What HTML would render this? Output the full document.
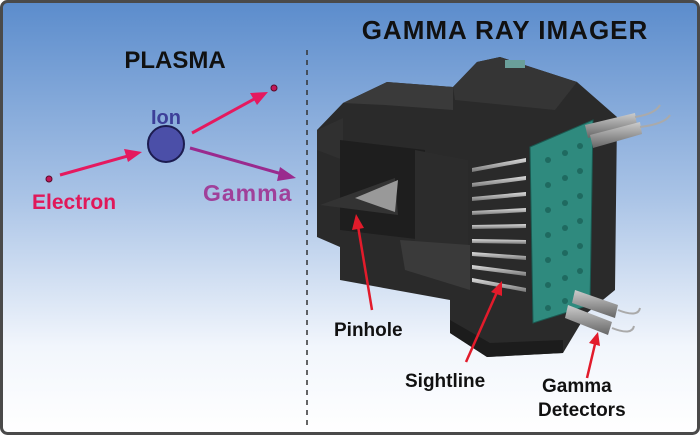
<!DOCTYPE html>
<html><head><style>
body{margin:0;width:700px;height:435px;overflow:hidden;font-family:"Liberation Sans",sans-serif}
</style></head><body>
<svg width="700" height="435" viewBox="0 0 700 435" xmlns="http://www.w3.org/2000/svg">
<defs>
<linearGradient id="bg" x1="0" y1="0" x2="0" y2="1">
<stop offset="0" stop-color="#5b8ccc"/><stop offset="0.45" stop-color="#a9c3e6"/><stop offset="0.8" stop-color="#f2f6fc"/><stop offset="1" stop-color="#ffffff"/>
</linearGradient>
<linearGradient id="rod" x1="0" y1="0" x2="0" y2="1"><stop offset="0" stop-color="#ddd"/><stop offset="1" stop-color="#777"/></linearGradient>
<linearGradient id="pmt" x1="0" y1="0" x2="0" y2="1"><stop offset="0" stop-color="#ccc"/><stop offset="1" stop-color="#666"/></linearGradient>
</defs>
<rect x="1.5" y="1.5" width="697" height="432" rx="6" fill="url(#bg)" stroke="#4a4a4a" stroke-width="3"/>
<text x="175" y="68" font-size="24" font-weight="bold" text-anchor="middle" fill="#111">PLASMA</text>
<text x="505" y="39" font-size="26" font-weight="bold" text-anchor="middle" fill="#111" letter-spacing="1">GAMMA RAY IMAGER</text>
<line x1="307" y1="50" x2="307" y2="425" stroke="#333" stroke-width="1.5" stroke-dasharray="5,5"/>
<!-- plasma -->
<circle cx="166" cy="144" r="18" fill="#4b4fa8" stroke="#1c1c50" stroke-width="2"/>
<text x="166" y="124" font-size="20" font-weight="bold" text-anchor="middle" fill="#3d3f99">Ion</text>
<circle cx="49" cy="179" r="3" fill="#c2185a" stroke="#5a0a2a"/>
<circle cx="274" cy="88" r="3" fill="#c2185a" stroke="#5a0a2a"/>
<g stroke="#e5195f" stroke-width="3" fill="#e5195f">
<line x1="60" y1="175" x2="128" y2="156"/><polygon points="142,152 124,149 128,162" stroke="none"/>
<line x1="192" y1="133" x2="256" y2="98"/><polygon points="268,92 250,93 257,105" stroke="none"/>
</g>
<g stroke="#9a2a8e" stroke-width="3" fill="#9a2a8e">
<line x1="190" y1="148" x2="282" y2="174"/><polygon points="296,178 280,167 277,181" stroke="none"/>
</g>
<text x="32" y="209" font-size="21" font-weight="bold" fill="#e0185a">Electron</text>
<text x="203" y="201" font-size="23" font-weight="bold" fill="#a0409a" letter-spacing="1">Gamma</text>
<!-- machine -->
<polygon points="317,130 343,103 387,82 453,87 477,62 500,57 577,82 617,117 615,290 587,313 563,353 487,357 450,333 450,300 340,280 340,247 317,237" fill="#2a2a2a"/>
<polygon points="343,103 387,82 453,87 453,110 385,105" fill="#3a3a3a"/>
<polygon points="453,87 477,62 500,57 577,82 555,110 455,100" fill="#353535"/>
<polygon points="317,130 343,118 343,160 317,150" fill="#303030"/>
<polygon points="340,140 425,150 425,240 340,230" fill="#1e1e1e"/>
<polygon points="320,205 395,178 398,215" fill="#333"/>
<polygon points="355,198 398,180 395,212" fill="#999"/>
<polygon points="415,150 468,160 468,290 415,250" fill="#2c2c2c"/>
<polygon points="400,240 470,245 470,290 405,270" fill="#3a3a3a"/>
<polygon points="450,333 487,357 563,353 563,340 490,343 450,320" fill="#1c1c1c"/>
<!-- rods -->
<g fill="url(#rod)">
<polygon points="472,168 526,158 526,162 472,172"/>
<polygon points="472,183 526,176 526,180 472,187"/>
<polygon points="472,197 526,192 526,196 472,201"/>
<polygon points="472,211 526,208 526,212 472,215"/>
<polygon points="472,225 526,224 526,228 472,229"/>
<polygon points="472,239 526,240 526,244 472,243"/>
<polygon points="472,252 526,256 526,260 472,256"/>
<polygon points="472,265 526,272 526,276 472,269"/>
<polygon points="472,278 526,288 526,292 472,282"/>
</g>
<!-- teal panel -->
<polygon points="530,147 593,120 590,305 533,323" fill="#2f8a7e" stroke="#1b5a52"/>
<g fill="#1f6a60">
<circle cx="548" cy="160" r="3"/><circle cx="565" cy="153" r="3"/><circle cx="580" cy="146" r="3"/>
<circle cx="548" cy="185" r="3"/><circle cx="565" cy="178" r="3"/><circle cx="580" cy="171" r="3"/>
<circle cx="548" cy="210" r="3"/><circle cx="565" cy="203" r="3"/><circle cx="580" cy="196" r="3"/>
<circle cx="548" cy="235" r="3"/><circle cx="565" cy="228" r="3"/><circle cx="580" cy="221" r="3"/>
<circle cx="548" cy="260" r="3"/><circle cx="565" cy="253" r="3"/><circle cx="580" cy="246" r="3"/>
<circle cx="548" cy="285" r="3"/><circle cx="565" cy="278" r="3"/><circle cx="580" cy="271" r="3"/>
<circle cx="548" cy="308" r="3"/><circle cx="565" cy="301" r="3"/>
</g>
<!-- PMTs -->
<g fill="url(#pmt)">
<polygon points="585,125 635,113 637,125 588,138"/>
<polygon points="590,135 640,122 642,134 593,148"/>
<polygon points="575,290 618,305 615,318 572,303"/>
<polygon points="568,305 612,322 608,335 565,318"/>
</g>
<g stroke="#aaa" stroke-width="2" fill="none">
<path d="M635,117 q20,-3 25,-12"/><path d="M640,127 q25,-3 30,-12"/>
<path d="M618,310 q20,8 22,-2"/><path d="M612,328 q20,8 22,-2"/>
</g>
<rect x="505" y="60" width="20" height="8" fill="#6a9f9a"/>
<!-- labels -->
<g stroke="#e21b2b" stroke-width="2.5" fill="#e21b2b">
<line x1="372" y1="310" x2="358" y2="226"/><polygon points="356,214 352,230 364,228" stroke="none"/>
<line x1="466" y1="362" x2="497" y2="292"/><polygon points="502,281 491,292 502,296" stroke="none"/>
<line x1="587" y1="378" x2="595" y2="344"/><polygon points="598,332 589,343 600,346" stroke="none"/>
</g>
<g font-size="19" font-weight="bold" fill="#111">
<text x="334" y="336">Pinhole</text>
<text x="405" y="387">Sightline</text>
<text x="542" y="392">Gamma</text>
<text x="538" y="416">Detectors</text>
</g>
</svg>
</body></html>
